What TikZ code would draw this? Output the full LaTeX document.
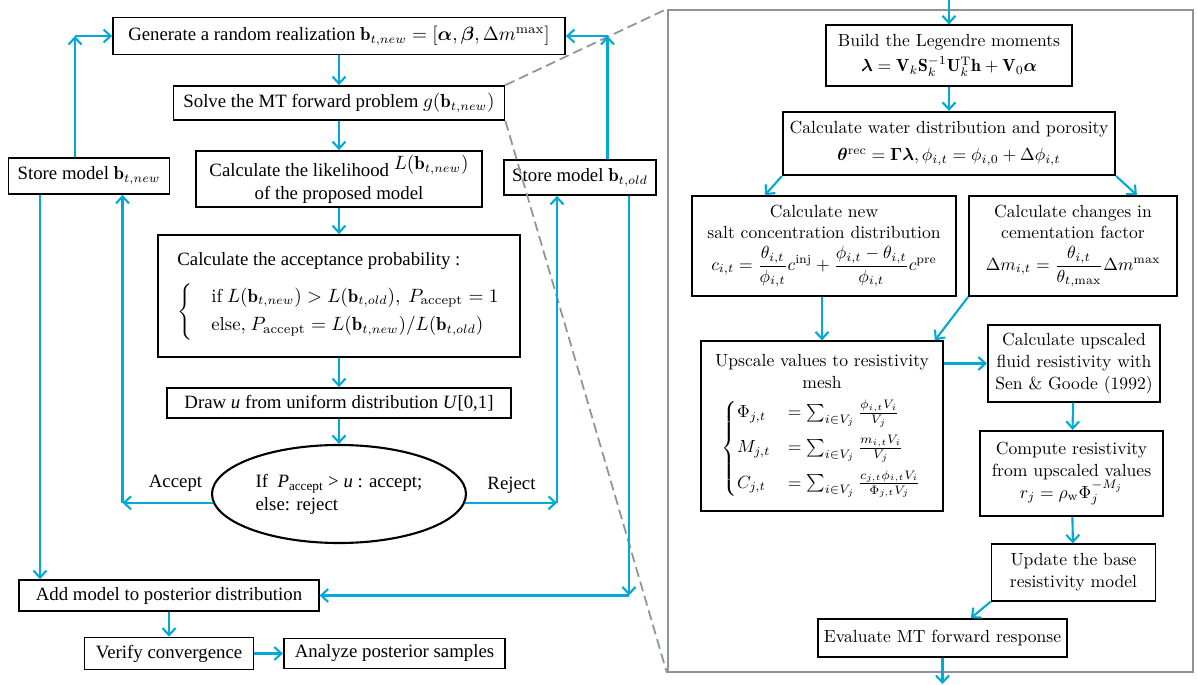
\documentclass[tikz,border=0pt]{standalone}
\usepackage{amsmath, bm, amsfonts, amssymb}
\usepackage{fontspec}
\newfontfamily\timesfont{Liberation Serif}
\usepackage{xcolor}
\usepackage{tikz}
\usetikzlibrary{arrows.meta}
\usetikzlibrary{shapes.geometric}
\definecolor{flowblue}{RGB}{0,169,214}
\definecolor{framegray}{RGB}{142,148,154}
\tikzset{
	leftnode/.style={rectangle, draw=black, line width=1pt, align=center, inner sep=1pt, font=\timesfont\fontsize{10.7}{13}\selectfont},
	rightnode/.style={rectangle, draw=black, line width=1pt, align=center, inner sep=1pt, font=\fontsize{10}{12.5}\selectfont},
	ovalnode/.style={ellipse, draw=black, line width=1.2pt, align=left, inner sep=0pt, font=\timesfont\fontsize{10.7}{13}\selectfont},
	flow/.style={-{Straight Barb[length=1.4mm,width=2.6mm]}, draw=flowblue, line width=1.2pt},
	zoomframe/.style={rectangle, draw=framegray, line width=1.2pt},
	zoomdash/.style={draw=framegray, line width=1pt, dash pattern=on 2mm off 1mm}
}

\begin{document}
\begin{tikzpicture}
		\useasboundingbox (0,0) rectangle (23.94,13.68);
		
		% MCMC loop
		\node[leftnode, minimum width=9.04cm, minimum height=0.74cm] at (6.78,12.96) (gen) {Generate a random realization $\mathbf{b}_{t,new} = [\boldsymbol{\alpha}, \boldsymbol{\beta}, \Delta m^{\max}]$};
		\node[leftnode, minimum width=6.62cm, minimum height=0.68cm] at (6.78,11.62) (solve) {Solve the MT forward problem $g(\mathbf{b}_{t,new})$};
		\node[leftnode, minimum width=5.72cm, minimum height=1.12cm] at (6.78,10.10) (lik) {Calculate the likelihood \raisebox{0.8ex}{$L(\mathbf{b}_{t,new})$}\\ of the proposed model};
		\node[leftnode, align=left, minimum width=7.24cm, minimum height=2.44cm] at (6.78,7.76) (acc) {Calculate the acceptance probability :\\[7pt]
			$\left\{\quad\begin{array}{@{}l@{}} \mathrm{if}\ L(\mathbf{b}_{t,new}) > L(\mathbf{b}_{t,old}),\ P_{\mathrm{accept}} = 1\\[3pt] \mathrm{else,}\ P_{\mathrm{accept}} = L(\mathbf{b}_{t,new})/L(\mathbf{b}_{t,old})\end{array}\right.$};
		\node[leftnode, minimum width=6.87cm, minimum height=0.60cm] at (6.78,5.62) (drawu) {Draw \textit{u} from uniform distribution \textit{U}[0,1]};
		\node[ovalnode, minimum width=5.08cm, minimum height=1.96cm] at (6.78,3.80) (decide) {If \ \textit{P}\textsubscript{accept} > \textit{u} : accept;\\ else: reject};
		\node[leftnode, minimum width=3.22cm, minimum height=0.72cm] at (1.78,10.16) (storenew) {Store model $\mathbf{b}_{t,new}$};
		\node[leftnode, minimum width=3.04cm, minimum height=0.70cm] at (11.60,10.13) (storeold) {Store model $\mathbf{b}_{t,old}$};
		\node[leftnode, minimum width=5.99cm, minimum height=0.62cm] at (3.38,1.77) (addpost) {Add model to posterior distribution};
		\node[leftnode, minimum width=3.38cm, minimum height=0.64cm] at (3.38,0.61) (verify) {Verify convergence};
		\node[leftnode, minimum width=4.43cm, minimum height=0.60cm] at (7.89,0.61) (analyze) {Analyze posterior samples};
		\node[font=\timesfont\fontsize{10.7}{13}\selectfont] at (3.51,4.02) (acctxt) {Accept};
		\node[font=\timesfont\fontsize{10.7}{13}\selectfont] at (10.23,3.97) (rejtxt) {Reject};
		
		% forward model detail
		\node[zoomframe, minimum width=10.5cm, minimum height=13.24cm] at (18.61,6.86) (frame) {};
		\node[rightnode, minimum width=4.92cm, minimum height=1.21cm] at (18.98,12.57) (legendre) {Build the Legendre moments\\[2pt] $\boldsymbol{\lambda} = \mathbf{V}_k\mathbf{S}_k^{-1}\mathbf{U}_k^{\mathrm{T}}\mathbf{h} + \mathbf{V}_0\boldsymbol{\alpha}$};
		\node[rightnode, minimum width=6.65cm, minimum height=1.27cm] at (18.98,10.81) (water) {Calculate water distribution and porosity\\[3pt] $\boldsymbol{\theta}^{\mathrm{rec}} = \boldsymbol{\Gamma\lambda}, \phi_{i,t} = \phi_{i,0} + \Delta\phi_{i,t}$};
		\node[rightnode, minimum width=5.27cm, minimum height=2.0cm] at (16.48,8.76) (salt) {Calculate new\\ salt concentration distribution\\[3pt] $c_{i,t} = \dfrac{\theta_{i,t}}{\phi_{i,t}}c^{\mathrm{inj}} + \dfrac{\phi_{i,t}-\theta_{i,t}}{\phi_{i,t}}c^{\mathrm{pre}}$};
		\node[rightnode, minimum width=4.16cm, minimum height=2.0cm] at (21.46,8.76) (cement) {Calculate changes in\\ cementation factor\\[3pt] $\Delta m_{i,t} = \dfrac{\theta_{i,t}}{\theta_{t,\max}}\Delta m^{\max}$};
		\node[rightnode, minimum width=4.84cm, minimum height=3.39cm] at (16.44,5.16) (upscale) {Upscale values to resistivity\\ mesh\\[5pt]
			$\begin{cases}\Phi_{j,t} &= \sum_{i\in V_j}\frac{\phi_{i,t}V_i}{V_j}\\[5pt] M_{j,t} &= \sum_{i\in V_j}\frac{m_{i,t}V_i}{V_j}\\[5pt] C_{j,t} &= \sum_{i\in V_j}\frac{c_{j,t}\phi_{i,t}V_i}{\Phi_{j,t}V_j}\end{cases}$};
		\node[rightnode, minimum width=3.45cm, minimum height=1.53cm] at (21.48,6.41) (sen) {Calculate upscaled\\ fluid resistivity with\\ Sen \& Goode (1992)};
		\node[rightnode, minimum width=3.66cm, minimum height=1.71cm] at (21.43,4.21) (compute) {Compute resistivity\\ from upscaled values\\ $r_j = \rho_{\mathrm{w}}\Phi_j^{-M_j}$};
		\node[rightnode, minimum width=3.28cm, minimum height=1.13cm] at (21.47,2.23) (update) {Update the base\\ resistivity model};
		\node[rightnode, minimum width=4.98cm, minimum height=0.76cm] at (18.85,0.92) (evaluate) {Evaluate MT forward response};
		
		\coordinate (in) at (18.98,13.68);
		\coordinate (out) at (18.85,0);
		\coordinate (up1) at (1.50,12.96);
		\coordinate (up2) at (12.15,12.96);
		\coordinate (accx) at (2.45,3.62);
		\coordinate (rejx) at (11.14,3.62);
		\coordinate (down1) at (0.80,1.77);
		\coordinate (down2) at (12.58,1.77);
		
		%Lines
		\draw[zoomdash] (solve.north east) -- (frame.north west);
		\draw[zoomdash] (solve.south east) -- (frame.south west);
		
		\draw[flow] (gen) -- (solve);
		\draw[flow] (solve) -- (lik);
		\draw[flow] (lik) -- (acc);
		\draw[flow] (acc) -- (drawu);
		\draw[flow] (drawu) -- (decide);
		
		\draw[flow] (decide.184) -- (decide.184 -| accx);
		\draw[flow] (decide.184 -| accx) -- (accx |- storenew.south);
		\draw[flow] (decide.356) -- (decide.356 -| rejx);
		\draw[flow] (decide.356 -| rejx) -- (rejx |- storeold.south);
		
		\draw[flow] (storenew.north -| up1) -- (up1);
		\draw[flow] (up1) -- (gen.west);
		\draw[flow] (storeold.north -| up2) -- (up2);
		\draw[flow] (up2) -- (gen.east);
		
		\draw[flow] (storenew.south -| down1) -- (down1 |- addpost.north);
		\draw[flow] (storeold.south -| down2) -- (down2);
		\draw[flow] (down2) -- (addpost.east);
		\draw[flow] (addpost) -- (verify);
		\draw[flow] (verify) -- (analyze);
		
		\draw[flow] (in) -- (legendre);
		\draw[flow] (legendre) -- (water);
		\draw[flow] (water.south west) -- ([xshift=1.47cm]salt.north west);
		\draw[flow] (water.south east) -- ([xshift=-0.82cm]cement.north east);
		\draw[flow] (upscale.north |- salt.south) -- (upscale.north);
		\draw[flow] (cement.south west) -- ([xshift=-0.18cm]upscale.north east);
		\draw[flow] (upscale.east |- sen.west) -- (sen.west);
		\draw[flow] (sen) -- (compute);
		\draw[flow] (compute) -- (update);
		\draw[flow] (update.south west) -- ([xshift=-1.94cm]evaluate.north east);
		\draw[flow] (evaluate) -- (out);
		
	\end{tikzpicture}
\end{document}
